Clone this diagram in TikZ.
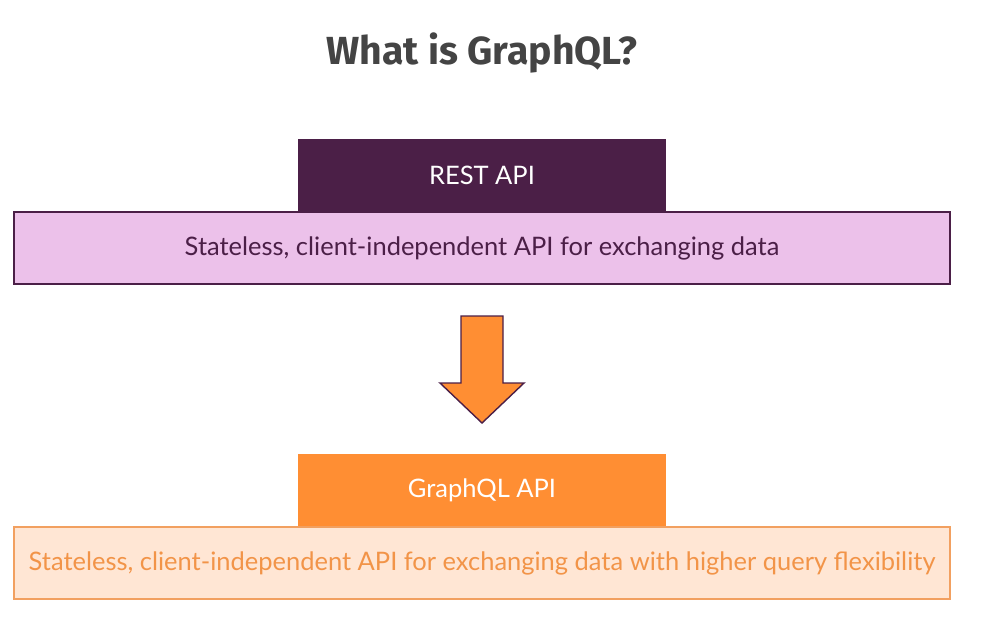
\documentclass[tikz,border=0pt]{standalone}
\usepackage{fontspec}
\setmainfont{Lato}
\newfontfamily\titlefont{Fira Sans}
\usetikzlibrary{positioning}

\definecolor{restpurple}{HTML}{4B1F47}
\definecolor{restpink}{HTML}{ECC1EA}
\definecolor{gqlorange}{HTML}{FF8E33}
\definecolor{gqlpeach}{HTML}{FFE6D4}
\definecolor{gqltext}{HTML}{F29448}
\definecolor{gqlline}{HTML}{F2A060}
\definecolor{titlegray}{HTML}{444444}

\tikzset{
  headbox/.style={minimum width=7.36cm, minimum height=1.44cm, inner sep=0pt,
                  text=white, font=\fontsize{14.5}{16}\selectfont},
  descbox/.style={draw, line width=0.8pt, minimum width=18.72cm, minimum height=1.44cm,
                  inner sep=0pt, font=\fontsize{14.5}{16}\selectfont},
  bigarrow/.style={fill=gqlorange, draw=restpurple, line width=0.8pt, line join=miter}
}

\begin{document}
\begin{tikzpicture}[x=0.02cm,y=-0.02cm]
  \useasboundingbox (0,0) rectangle (1007,625);

  % title
  \node[text=titlegray, font=\titlefont\bfseries\fontsize{22.3}{26}\selectfont] (title) at (482,53) {What is GraphQL?};

  % REST
  \node[headbox, fill=restpurple] (rest) at (482,175) {REST API};
  \node[descbox, fill=restpink, draw=restpurple, text=restpurple, below=0pt of rest] (restdesc)
       {Stateless, client-independent API for exchanging data};

  % arrow
  \draw[bigarrow] (461,316) -- (503,316) -- (503,383) -- (524,383) -- (482,423)
       -- (440,383) -- (461,383) -- cycle;

  % GraphQL
  \node[headbox, fill=gqlorange] (gql) at (482,490) {GraphQL API};
  \node[descbox, fill=gqlpeach, draw=gqlline, text=gqltext, below=0pt of gql] (gqldesc)
       {Stateless, client-independent API for exchanging data with higher query flexibility};
\end{tikzpicture}
\end{document}
